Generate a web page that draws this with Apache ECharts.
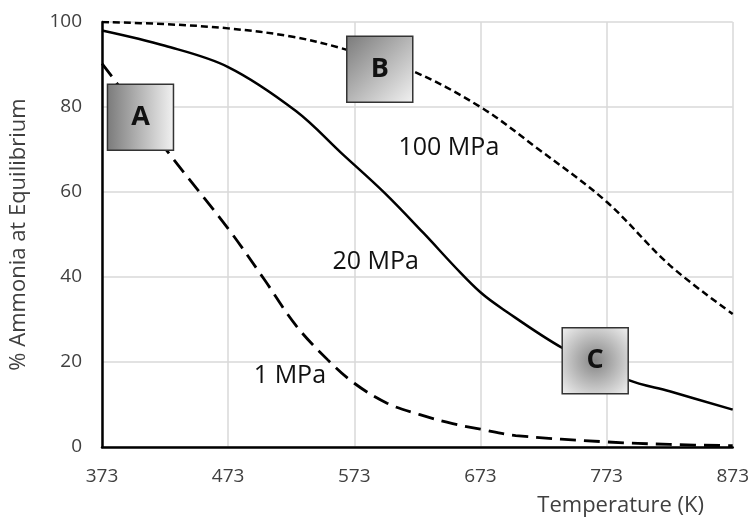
<!DOCTYPE html>
<html>
<head>
<meta charset="utf-8">
<script src="https://cdn.jsdelivr.net/npm/echarts@6/dist/echarts.min.js"></script>
<style>html,body{margin:0;padding:0;background:#fff;}#c{width:752px;height:520px;}</style>
</head>
<body>
<div id="c"></div>
<script>
// Data
var xTicks = [373, 473, 573, 673, 773, 873];
var temps100 = [373, 423, 473, 523, 563, 618, 673, 718, 773, 823, 873];
var p100 =     [100, 99.5, 98.5, 96.6, 93.8, 88.6, 80, 70.3, 57.7, 42.8, 31.3];
var temps20 = [373, 423, 473, 527, 563, 597, 628, 654, 673, 690, 738, 790, 823, 873];
var p20 =     [98, 94.4, 89.4, 79, 69.1, 59.8, 50.3, 42, 36.4, 32.6, 23.3, 15.8, 13.1, 8.8];
var temps1 = [373, 383, 425, 473, 501, 527, 552, 573, 599, 625, 651, 673, 701, 773, 823, 873];
var p1 =     [90.2, 86.3, 69.5, 51.4, 39.7, 28.5, 20.5, 15, 10.3, 7.6, 5.5, 4.2, 2.7, 1.2, 0.6, 0.3];
var curveNames = ['100 MPa', '20 MPa', '1 MPa'];
var curveLabelPos = [[648, 70.3], [590, 43.6], [522, 16.8]];
var boxLetters = ['A', 'B', 'C'];
var boxPos = [[403.5, 77.6], [593.2, 88.9], [764, 20.3]];

function pairs(xs, ys) { return xs.map(function (x, i) { return [x, ys[i]]; }); }

var gradA = {type: 'linear', x: 0, y: 0, x2: 1, y2: 0,
  colorStops: [{offset: 0, color: '#7a7a7a'}, {offset: 1, color: '#f2f2f2'}]};
var gradB = {type: 'linear', x: 0, y: 0, x2: 1, y2: 1,
  colorStops: [{offset: 0, color: '#7a7a7a'}, {offset: 1, color: '#f2f2f2'}]};
var gradC = {type: 'radial', x: 0.5, y: 0.5, r: 0.7,
  colorStops: [{offset: 0, color: '#858585'}, {offset: 1, color: '#f2f2f2'}]};
var grads = [gradA, gradB, gradC];

function boxMark(i) {
  return {
    coord: boxPos[i], symbol: 'rect', symbolSize: [66, 66],
    itemStyle: {color: grads[i], borderColor: '#333', borderWidth: 1.5},
    label: {show: true, position: 'inside', formatter: boxLetters[i],
      fontFamily: 'Open Sans', fontWeight: 'bold', fontSize: 27, color: '#111'}
  };
}
function textMark(i) {
  return {
    coord: curveLabelPos[i], symbol: 'rect', symbolSize: 1,
    itemStyle: {color: 'rgba(0,0,0,0)'},
    label: {show: true, position: 'inside', formatter: curveNames[i],
      fontFamily: 'Open Sans', fontSize: 25, color: '#111'}
  };
}

var chart = echarts.init(document.getElementById('c'));
chart.setOption({
  animation: false,
  backgroundColor: '#fff',
  grid: {left: 98, right: 16, top: 22, bottom: 73},
  xAxis: {
    type: 'value', min: 373, max: 873, interval: 100,
    axisLine: {show: true, lineStyle: {color: '#000', width: 2.5}},
    axisTick: {show: false},
    axisLabel: {margin: 20, fontFamily: 'Open Sans', fontSize: 19, color: '#404040',
      formatter: function (v) { return xTicks.indexOf(v) >= 0 ? String(v) : ''; }},
    splitLine: {show: true, lineStyle: {color: '#d9d9d9', width: 1.5}}
  },
  yAxis: {
    type: 'value', min: 0, max: 100, interval: 20,
    name: '% Ammonia at Equilibrium', nameLocation: 'middle', nameGap: 72,
    nameTextStyle: {fontFamily: 'Open Sans', fontSize: 22, color: '#404040'},
    axisLine: {show: true, lineStyle: {color: '#000', width: 2.5}},
    axisTick: {show: false},
    axisLabel: {margin: 20, fontFamily: 'Open Sans', fontSize: 19, color: '#404040'},
    splitLine: {show: true, lineStyle: {color: '#d9d9d9', width: 1.5}}
  },
  graphic: [{
    type: 'text', right: 48, top: 495,
    style: {text: 'Temperature (K)', font: '22px "Open Sans"', fill: '#404040'}
  }],
  series: [
    {name: '100 MPa', type: 'line', data: pairs(temps100, p100), smooth: 0.35, symbol: 'none',
      lineStyle: {color: '#000', width: 2.5, type: [7, 4]},
      markPoint: {data: [boxMark(1), textMark(0)]}},
    {name: '20 MPa', type: 'line', data: pairs(temps20, p20), smooth: 0.35, symbol: 'none',
      lineStyle: {color: '#000', width: 2.5, type: 'solid'},
      markPoint: {data: [boxMark(2), textMark(1)]}},
    {name: '1 MPa', type: 'line', data: pairs(temps1, p1), smooth: 0.35, symbol: 'none',
      lineStyle: {color: '#000', width: 2.8, type: [16, 8]},
      markPoint: {data: [boxMark(0), textMark(2)]}}
  ]
});
</script>
</body>
</html>
